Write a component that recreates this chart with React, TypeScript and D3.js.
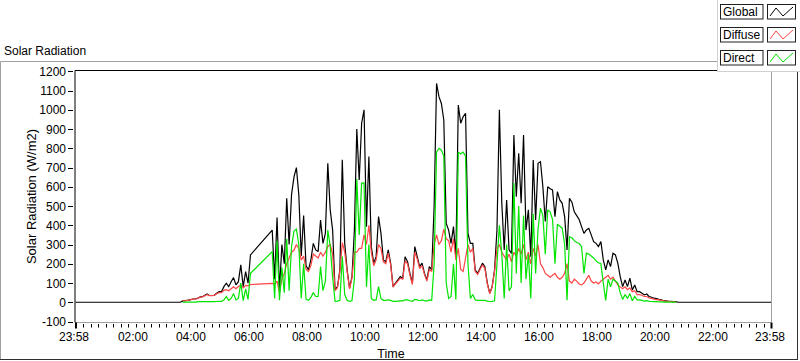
import React from "react";
import * as d3 from "d3";

// ---- data (minutes since 00:00, 5-minute samples from 03:40 to 20:40) ----
const START_MIN = 220;
const STEP_MIN = 5;
const N = null;

const globalVals: (number | null)[] = [
  7, 8, 10, 12,
  17, 17, 20, 27, 29, 35, 43, 35, 35, 36, 47, 55,
  54, 81, 99, 81, 107, 128, 90, 107, 194, 81, 159, 99,
  246, N, N, N, N, N, N, N, N, 375, 120, 440,
  60, 300, 200, 540, 300, 560, 650, 700, 560, 240, 450, 190,
  168, 220, 306, 272, 263, 427, 306, 358, 722, 480, 375, 64,
  81, 168, 740, 306, 168, 73, 133, 375, 900, 635, 930, 1000,
  393, 757, 289, 203, 237, 445, 358, 220, 211, 272, 203, 81,
  99, 116, 133, 125, 237, 211, 150, 99, 289, 237, 185, 203,
  150, 116, 185, 168, 500, 1137, 1068, 1033, 947, 410, 375, 306,
  393, 237, 1025, 930, 964, 982, 358, 306, 306, 168, 150, 176,
  203, 185, 99, 47, 81, 168, 375, 1000, 514, 272, 531, 272,
  254, 869, 549, 774, 514, 869, 375, 480, 237, 739, 428, 722,
  730, 600, 420, 600, 590, 584, 445, 574, 532, 514, 445, 272,
  540, 520, 470, 450, 430, 393, 358, 376, 384, 350, 315, 306,
  289, 315, 220, 168, 220, 185, 255, 246, 203, 133, 81, 116,
  81, 125, 64, 90, 55, 55, 47, 38, 43, 29, 26, 21,
  19, 15, 12, 8, 7, 5, 5, 3, 3,
];

const diffuseVals: (number | null)[] = [
  7, 8, 10, 12,
  16, 17, 19, 25, 28, 33, 40, 34, 34, 35, 44, 50,
  50, 62, 65, 60, 70, 80, 70, 82, 90, 75, 88, 85,
  92, N, N, N, N, N, N, N, N, 98, 95, 110,
  50, 120, 150, 200, 230, 260, 270, 300, 280, 220, 240, 170,
  160, 190, 250, 240, 230, 260, 240, 260, 290, 300, 250, 60,
  75, 160, 310, 260, 160, 70, 125, 260, 260, 280, 280, 350,
  300, 400, 260, 190, 220, 300, 280, 210, 200, 255, 195, 78,
  95, 110, 125, 120, 215, 200, 140, 92, 260, 225, 175, 190,
  145, 110, 170, 160, 300, 350, 300, 320, 380, 330, 320, 260,
  330, 220, 280, 170, 160, 230, 300, 260, 280, 160, 145, 170,
  195, 175, 95, 45, 78, 160, 280, 300, 260, 240, 220, 250,
  210, 260, 240, 280, 250, 300, 220, 260, 200, 280, 240, 300,
  200, 180, 150, 140, 130, 140, 150, 130, 120, 130, 150, 200,
  110, 100, 120, 110, 95, 90, 100, 120, 140, 110, 100, 105,
  95, 110, 120, 130, 140, 120, 130, 110, 90, 80, 70, 80,
  65, 75, 55, 60, 40, 40, 35, 30, 30, 22, 20, 16,
  14, 12, 10, 7, 6, 4, 4, 2, 2,
];

const directVals: (number | null)[] = [
  1, 1, 1, 1,
  1, 1, 2, 3, 3, 3, 4, 3, 3, 3, 4, 5,
  5, 12, 30, 10, 20, 45, 12, 20, 100, 8, 70, 15,
  150, N, N, N, N, N, N, N, N, 263, 20, 320,
  10, 180, 50, 330, 60, 290, 370, 380, 300, 20, 200, 15,
  10, 25, 50, 30, 30, 185, 60, 110, 375, 290, 130, 5,
  6, 10, 237, 40, 10, 5, 8, 120, 640, 350, 619, 620,
  80, 300, 20, 10, 12, 81, 20, 10, 10, 12, 10, 5,
  5, 6, 7, 7, 12, 12, 8, 5, 15, 12, 8, 12,
  8, 6, 12, 10, 200, 780, 800, 790, 760, 100, 20, 30,
  200, 15, 780, 770, 780, 760, 200, 20, 40, 12, 10, 10,
  10, 10, 6, 4, 5, 8, 200, 400, 250, 20, 300, 60,
  80, 619, 150, 500, 100, 450, 120, 250, 20, 460, 150, 380,
  489, 450, 250, 480, 470, 430, 200, 405, 395, 385, 300, 10,
  340, 335, 320, 310, 305, 290, 150, 255, 250, 240, 230, 215,
  205, 200, 100, 10, 120, 80, 120, 110, 100, 50, 15, 40,
  20, 45, 8, 30, 12, 12, 10, 6, 8, 5, 4, 3,
  3, 2, 2, 1, 1, 1, 1, 1, 1,
];

// night-time zero readings of the Global sensor (minute, value)
const globalNightBefore: [number, number][] = [[-2, 0], [215, 0]];
const globalNightAfter: [number, number][] = [[1245, 0], [1438, 0]];

const yTicks = [-100, 0, 100, 200, 300, 400, 500, 600, 700, 800, 900, 1000, 1100, 1200];
const xTickMinutes = [-2, 120, 240, 360, 480, 600, 720, 840, 960, 1080, 1200, 1320, 1438];
const xTickLabels = ["23:58", "02:00", "04:00", "06:00", "08:00", "10:00", "12:00", "14:00", "16:00", "18:00", "20:00", "22:00", "23:58"];
const minorTickStep = 15.65;

const seriesNames = ["Global", "Diffuse", "Direct"];
const seriesColors = ["#000000", "#ff4545", "#00e400"];

const FONT = "'Liberation Sans', Arial, sans-serif";

function toPoints(vals: (number | null)[]): [number, number][] {
  const out: [number, number][] = [];
  vals.forEach((v, i) => {
    if (v !== null) out.push([START_MIN + i * STEP_MIN, v]);
  });
  return out;
}

export default function App() {
  const W = 800;
  const H = 361;
  const x = d3.scaleLinear().domain([-2, 1438]).range([75.5, 771.5]);
  const y = d3.scaleLinear().domain([-100, 1200]).range([321.5, 71.3]);

  const line = d3
    .line<[number, number]>()
    .x((d) => x(d[0]))
    .y((d) => y(d[1]));

  const series: [number, number][][] = [
    [...globalNightBefore, ...toPoints(globalVals), ...globalNightAfter],
    toPoints(diffuseVals),
    toPoints(directVals),
  ];

  const minorTicks: number[] = d3.range(-2, 1438, minorTickStep);

  const plotL = 75;
  const plotT = 70.5;
  const plotR = 771.5;
  const plotB = 322.5;

  return (
    <svg width={W} height={H} style={{ position: "absolute", left: 0, top: 0, background: "#fff" }} fontFamily={FONT}>
      <rect x={0} y={0} width={W} height={H} fill="#ffffff" />
      {/* outer panel */}
      <line x1={0.5} y1={61.5} x2={797} y2={61.5} stroke="#a0a0a0" />
      <line x1={0.5} y1={61.5} x2={0.5} y2={359.5} stroke="#a0a0a0" />
      <line x1={0} y1={359.5} x2={797.5} y2={359.5} stroke="#303030" />
      <line x1={797.5} y1={61} x2={797.5} y2={360} stroke="#303030" />

      <text x={4} y={55} fontSize={12} fill="#000">Solar Radiation</text>

      {/* plot frame */}
      <line x1={plotR} y1={plotT} x2={plotR} y2={plotB} stroke="#a0a0a0" />
      <line x1={plotL} y1={plotB} x2={plotR} y2={plotB} stroke="#a0a0a0" />

      {/* data */}
      <g clipPath="url(#plotclip)">
        {series.map((pts, i) => (
          <path
            key={seriesNames[i]}
            d={line(pts) || ""}
            fill="none"
            stroke={seriesColors[i]}
            strokeWidth={1.2}
            strokeLinejoin="miter"
            strokeMiterlimit={2}
          />
        ))}
      </g>
      <defs>
        <clipPath id="plotclip">
          <rect x={plotL} y={plotT} width={plotR - plotL} height={plotB - plotT} />
        </clipPath>
      </defs>

      <line x1={plotL} y1={plotT} x2={plotR} y2={plotT} stroke="#000" />
      <line x1={plotL} y1={plotT} x2={plotL} y2={plotB} stroke="#000" />

      {/* y axis */}
      {yTicks.map((t) => (
        <g key={t}>
          <line x1={68} x2={73} y1={Math.round(y(t)) + 0.5} y2={Math.round(y(t)) + 0.5} stroke="#000" />
          <text x={66} y={y(t) + 4.5} fontSize={12} textAnchor="end" fill="#000">{t}</text>
        </g>
      ))}
      <text
        transform={`translate(36, ${(plotT + plotB) / 2}) rotate(-90)`}
        fontSize={13}
        textAnchor="middle"
        fill="#000"
      >
        Solar Radiation (W/m2)
      </text>

      {/* x axis */}
      {minorTicks.map((m, i) => (
        <line key={i} x1={Math.round(x(m)) + 0.5} x2={Math.round(x(m)) + 0.5} y1={324} y2={327.5} stroke="#000" />
      ))}
      <rect x={x(-2) - 0.5} y={322.5} width={2} height={6} fill="#000" />
      <rect x={x(1438) - 1} y={322.5} width={2} height={6} fill="#000" />
      {xTickMinutes.map((m, i) => (
        <text key={i} x={x(m) - 1.5} y={341} fontSize={12} textAnchor="middle" fill="#000">
          {xTickLabels[i]}
        </text>
      ))}
      <text x={391} y={358} fontSize={12.5} textAnchor="middle" fill="#000">Time</text>

      {/* legend */}
      <rect x={717} y={-1} width={84} height={73} fill="#fff" />
      <line x1={717.5} y1={0} x2={717.5} y2={72} stroke="#d0d0d0" />
      <line x1={717.5} y1={71.5} x2={800} y2={71.5} stroke="#d0d0d0" />
      <line x1={plotR} y1={72} x2={plotR} y2={plotB} stroke="#a0a0a0" />
      {seriesNames.map((name, i) => {
        const ty = 4.5 + i * 23;
        return (
          <g key={name}>
            <rect x={720.5} y={ty} width={42.5} height={14.5} fill="#fff" stroke="#202020" />
            <text x={723} y={ty + 11.5} fontSize={12} fill="#000">{name}</text>
            <rect x={767.5} y={ty} width={28} height={14.5} fill="#fff" stroke="#202020" />
            <path
              d={`M${770},${ty + 11.5} L${776},${ty + 3.5} L${783},${ty + 11.5} L${793},${ty + 2.5}`}
              fill="none"
              stroke={seriesColors[i]}
            />
          </g>
        );
      })}
    </svg>
  );
}
